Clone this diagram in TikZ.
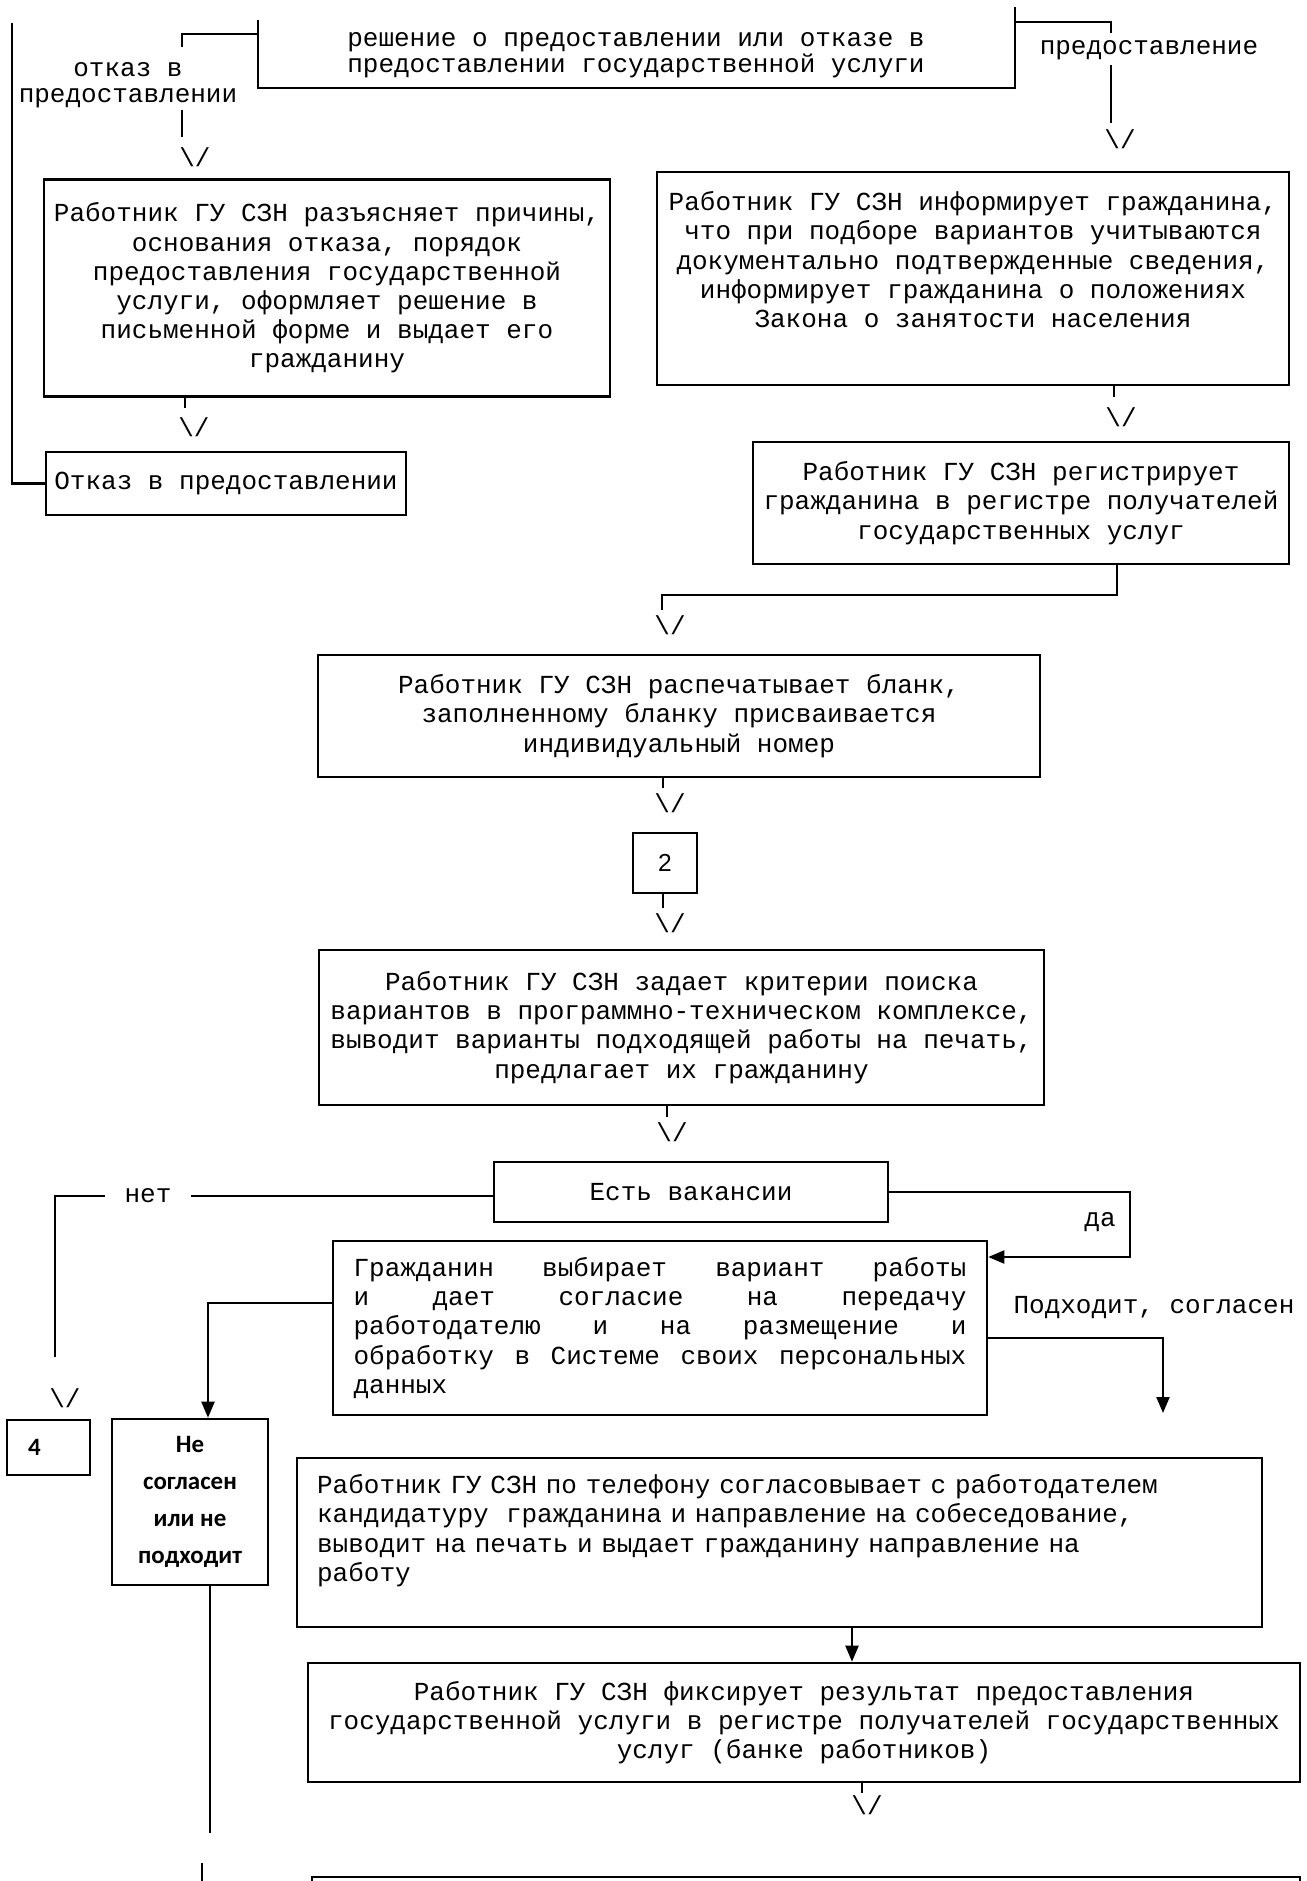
\documentclass[tikz,border=0pt]{standalone}
\usepackage{fontspec}
\setmainfont{Liberation Mono}
\newfontfamily\calib{Carlito}
\newfontfamily\arialf{Liberation Sans}
\usepackage{tikz}
\usetikzlibrary{arrows.meta}

\begin{document}
\begin{tikzpicture}[x=0.02cm,y=-0.02cm,
  font=\fontsize{14.8}{16.6}\selectfont,
  box/.style={draw,line width=1.5pt,inner sep=0pt,align=center},
  ln/.style={line width=1.2pt},
  arr/.style={line width=1.2pt,-{Triangle[length=0.32cm,width=0.26cm]}},
  lbl/.style={inner sep=0pt,align=center},
  chev/.style={inner sep=0pt},
  boldsans/.style={font=\calib\bfseries\fontsize{14.2}{21}\selectfont}]

\useasboundingbox (0,0) rectangle (1307,1881);

% decision
\node[lbl] (resh) at (636,55) {решение о предоставлении или отказе в\\[-1.9pt]предоставлении государственной услуги};
\coordinate (reshTL) at (258,20);
\coordinate (reshBL) at (258,88);
\coordinate (reshBR) at (1015,88);
\coordinate (reshTR) at (1015,7);
\draw[line width=1.5pt] (reshTL) -- (reshBL) -- (reshBR) -- (reshTR);

\coordinate (reshL) at (258,34);
\coordinate (otkA) at (182,47);
\draw[ln] (reshL) -| (otkA);
\node[lbl] (otk) at (128,85) {отказ в\\[-1.9pt]предоставлении};
\coordinate (otkB) at (182,110);
\coordinate (otkC) at (182,137);
\draw[ln] (otkB) -- (otkC);
\node[chev] (ch1) at (195,157) {\textbackslash/};

\coordinate (reshR) at (1015,22);
\coordinate (predA) at (1111,33);
\draw[ln] (reshR) -| (predA);
\node[lbl] (pred) at (1149,50) {предоставление};
\coordinate (predB) at (1111,65);
\coordinate (predC) at (1111,123);
\draw[ln] (predB) -- (predC);
\node[chev] (ch2) at (1120,139) {\textbackslash/};

% refusal branch
\node[box,minimum width=11.32cm,minimum height=4.34cm] (b1) at (327,288)
  {Работник ГУ СЗН разъясняет причины,\\основания отказа, порядок\\предоставления государственной\\услуги, оформляет решение в\\письменной форме и выдает его\\гражданину};
\coordinate (v3) at (185,408);
\draw[ln] (b1.south -| v3) -- (v3);
\node[chev] (ch3) at (194,427) {\textbackslash/};

\node[box,minimum width=7.2cm,minimum height=1.26cm] (b2) at (226,483.5) {Отказ в предоставлении};
\coordinate (otkUp) at (12,23);
\draw[ln] (otkUp) |- (b2.west);

% service branch
\node[box,minimum width=12.64cm,minimum height=4.26cm] (b3) at (973,278.5)
  {Работник ГУ СЗН информирует гражданина,\\что при подборе вариантов учитываются\\документально подтвержденные сведения,\\информирует гражданина о положениях\\Закона о занятости населения\\ \strut};
\coordinate (v4) at (1114,397);
\draw[ln] (b3.south -| v4) -- (v4);
\node[chev] (ch4) at (1121,417) {\textbackslash/};

\node[box,minimum width=10.72cm,minimum height=2.44cm] (b4) at (1021,503)
  {Работник ГУ СЗН регистрирует\\гражданина в регистре получателей\\государственных услуг};
\coordinate (v5a) at (1117,595);
\coordinate (v5b) at (662,610);
\draw[ln] (b4.south -| v5a) -- (v5a) -| (v5b);
\node[chev] (ch5) at (670,625) {\textbackslash/};

\node[box,minimum width=14.44cm,minimum height=2.44cm] (b5) at (679,716)
  {Работник ГУ СЗН распечатывает бланк,\\заполненному бланку присваивается\\индивидуальный номер};
\coordinate (v6) at (663,788);
\draw[ln] (b5.south -| v6) -- (v6);
\node[chev] (ch6) at (670,803) {\textbackslash/};

\node[box,font=\arialf\fontsize{14}{16}\selectfont,minimum width=1.28cm,minimum height=1.2cm] (b6) at (665,863) {2};
\coordinate (v7) at (663,908);
\draw[ln] (b6.south -| v7) -- (v7);
\node[chev] (ch7) at (670,923) {\textbackslash/};

\node[box,minimum width=14.5cm,minimum height=3.1cm] (b7) at (681.5,1027.5)
  {Работник ГУ СЗН задает критерии поиска\\вариантов в программно-техническом комплексе,\\выводит варианты подходящей работы на печать,\\предлагает их гражданину};
\coordinate (v8) at (667,1117);
\draw[ln] (b7.south -| v8) -- (v8);
\node[chev] (ch8) at (672,1132) {\textbackslash/};

% vacancies
\node[box,minimum width=7.88cm,minimum height=1.2cm] (b8) at (691,1192) {Есть вакансии};

\node[lbl,inner xsep=0.38cm] (net) at (148,1196) {нет};
\draw[ln] (b8.west |- net) -- (net.east);
\coordinate (k4top) at (55,1357);
\draw[ln] (net.west) -| (k4top);
\node[chev] (ch9) at (65,1398) {\textbackslash/};
\node[box,boldsans,align=left,text width=0.82cm,inner xsep=0.42cm,minimum height=1.1cm] (b10) at (48.5,1447.5) {4};

\node[box,align=justify,text width=12.26cm,inner xsep=0.41cm,minimum height=3.48cm] (b9) at (660,1328)
  {\spaceskip=0.6em plus 3em\relax Гражданин выбирает вариант работы\linebreak и дает согласие на передачу\linebreak работодателю и на размещение и\linebreak обработку в Системе своих персональных\linebreak данных};

\coordinate (daC) at (1130,1257);
\draw[arr] (b8.east) -| (daC) -- (b9.east |- daC);
\node[lbl] (da) at (1100,1222) {да};

\node[box,boldsans,minimum width=3.12cm,minimum height=3.32cm] (b11) at (190,1502)
  {Не\\согласен\\или не\\подходит};
\coordinate (nsC) at (208,1303);
\draw[arr] (b9.west |- nsC) -- (nsC) -- (b11.north -| nsC);

\coordinate (podC) at (1163,1338);
\coordinate (podE) at (1163,1413);
\draw[arr] (b9.east |- podC) -- (podC) -- (podE);
\node[lbl] (pod) at (1154,1308) {Подходит, согласен};

\coordinate (nsB) at (210,1833);
\draw[ln] (b11.south -| nsB) -- (nsB);
\coordinate (nsD1) at (202,1863);
\coordinate (nsD2) at (202,1900);
\draw[ln] (nsD1) -- (nsD2);

% employer
\node[box,align=left,text width=18.5cm,inner xsep=0.4cm,minimum height=3.38cm] (b12) at (779.5,1542.5)
  {Работник ГУ СЗН по телефону согласовывает с работодателем\\кандидатуру~ гражданина и направление на собеседование,\\выводит на печать и выдает гражданину направление на\\работу\\[-5pt]\strut};

\node[box,minimum width=19.84cm,minimum height=2.38cm] (b13) at (804,1722.5)
  {Работник ГУ СЗН фиксирует результат предоставления\\государственной услуги в регистре получателей государственных\\услуг (банке работников)};
\coordinate (v12) at (852,1600);
\draw[arr] (b12.south -| v12) -- (b13.north -| v12);

\coordinate (v13) at (862,1793);
\draw[ln] (b13.south -| v13) -- (v13);
\node[chev] (ch10) at (867,1805) {\textbackslash/};

\node[box,minimum width=19.76cm,minimum height=2.92cm] (b14) at (806,1950) {};

\end{tikzpicture}
\end{document}
